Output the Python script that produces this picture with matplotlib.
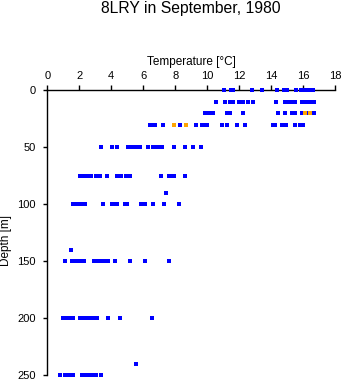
import matplotlib
matplotlib.use("Agg")
import matplotlib.pyplot as plt
import numpy as np

plt.rcParams['font.family'] = ['Liberation Sans', 'DejaVu Sans']

# depth levels [m] and temperatures [deg C] observed at each level (blue = regular obs)
depth_levels = [0, 10, 20, 30, 50, 75, 90, 100, 140, 150, 200, 240, 250]
temps_blue = [
    [11.06, 11.46, 11.6, 12.8, 13.44, 14.34, 14.8, 14.9, 15.0, 15.52, 15.84, 16.0, 16.15, 16.3, 16.45, 16.63],
    [10.56, 11.08, 11.4, 11.5, 11.6, 11.96, 12.08, 12.2, 12.56, 12.88, 14.3, 14.84, 15.1, 15.25, 15.4, 15.5,
     15.94, 16.1, 16.25, 16.4, 16.46, 16.69],
    [9.88, 10.0, 10.13, 10.375, 11.25, 11.4, 12.25, 14.44, 14.84, 15.3, 15.4, 15.5, 15.94, 16.25, 16.69],
    [6.42, 6.55, 6.73, 7.25, 8.31, 9.29, 9.65, 9.8, 9.96, 10.9, 11.25, 11.875, 12.375, 14.1, 14.25, 14.65,
     14.8, 14.9, 15.5, 15.8, 16.0],
    [3.36, 4.06, 4.375, 5.06, 5.2, 5.35, 5.5, 5.65, 5.8, 6.27, 6.63, 6.8, 6.95, 7.15, 7.92, 8.63, 9.13, 9.58],
    [2.04, 2.31, 2.45, 2.6, 2.73, 3.04, 3.29, 3.75, 4.375, 4.58, 4.92, 5.17, 7.13, 7.6, 7.75, 7.94, 8.63],
    [7.42],
    [1.63, 1.8, 2.0, 2.2, 2.36, 3.46, 4.02, 4.15, 4.33, 4.86, 5.0, 5.86, 6.13, 6.63, 7.31, 8.21],
    [1.5],
    [1.08, 1.52, 1.63, 1.875, 2.08, 2.2, 2.31, 2.94, 3.1, 3.29, 3.46, 3.6, 3.77, 4.25, 5.15, 6.13, 7.63],
    [0.96, 1.1, 1.25, 1.4, 1.52, 1.63, 2.04, 2.2, 2.35, 2.5, 2.65, 2.8, 2.95, 3.13, 3.77, 4.56, 6.54],
    [5.56],
    [0.79, 1.08, 1.2, 1.48, 1.63, 2.15, 2.3, 2.45, 2.6, 2.75, 2.9, 3.04, 3.38],
]
# highlighted (orange) observations
orange_depth = [20, 20, 30, 30]
orange_temp = [16.1, 16.4, 7.94, 8.69]

x_ticks = [0, 2, 4, 6, 8, 10, 12, 14, 16, 18]
y_ticks = [0, 50, 100, 150, 200, 250]

blue_depth = np.concatenate([[d] * len(t) for d, t in zip(depth_levels, temps_blue)])
blue_temp = np.concatenate(temps_blue)

W, H = 341, 384
fig = plt.figure(figsize=(W / 100, H / 100), dpi=100)
left, right, top, bottom = 47.3, 335.3, 90.3, 375.3
ax = fig.add_axes([left / W, 1 - bottom / H, (right - left) / W, (bottom - top) / H])

ax.scatter(blue_temp, blue_depth, s=5, marker='s', color='#0000ff', linewidths=0, zorder=3, clip_on=False)
ax.scatter(orange_temp, orange_depth, s=5, marker='s', color='#ffa500', linewidths=0, zorder=4, clip_on=False)

ax.set_xlim(0, 18)
ax.set_ylim(250, 0)
ax.set_xticks(x_ticks)
ax.set_yticks(y_ticks)
ax.xaxis.tick_top()
ax.xaxis.set_label_position('top')
for s in ['right', 'bottom']:
    ax.spines[s].set_visible(False)
for s in ['top', 'left']:
    ax.spines[s].set_linewidth(1.0)
ax.tick_params(axis='x', direction='out', length=3.5, width=1.0, pad=3.0, labelsize=8)
ax.tick_params(axis='y', direction='out', length=3.0, width=1.0, pad=5.5, labelsize=8)

ax.set_xlabel('Temperature [°C]', fontsize=8.5)
ax.xaxis.set_label_coords(0.5, 1 + 28.3 / (bottom - top))
ax.xaxis.label.set_va('center')
ax.set_ylabel('Depth [m]', fontsize=8.5)
ax.yaxis.set_label_coords((6 - left) / (right - left), (bottom - 240) / (bottom - top))
ax.yaxis.label.set_va('center')

fig.text((left + right) / 2 / W, 1 - 8.5 / H, '8LRY in September, 1980', fontsize=11.3,
         ha='center', va='center')

fig.savefig('out.png', dpi=100)
